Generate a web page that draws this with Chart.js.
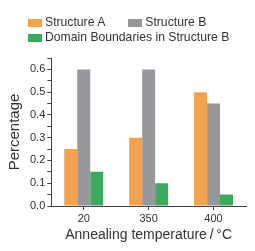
<!DOCTYPE html>
<html><head><meta charset="utf-8">
<script src="https://cdn.jsdelivr.net/npm/chart.js@4"></script>
<style>
html,body{margin:0;padding:0;background:#fff;}
#wrap{position:relative;width:255px;height:251px;}
#legend{position:absolute;left:28px;top:15px;font-family:"Liberation Sans",Arial,sans-serif;font-size:12.2px;color:#333;line-height:15px;white-space:nowrap;width:227px;}
.row{display:flex;align-items:center;height:15px;}
.item{display:flex;align-items:center;margin-right:23px;}
.box{width:14px;height:8px;margin-right:3px;}
</style></head>
<body><div id="wrap"><canvas id="c" width="255" height="251"></canvas><div id="legend"></div></div>
<script>
const categories = ["20", "350", "400"];
const structureA = [0.25, 0.30, 0.50];
const structureB = [0.60, 0.60, 0.45];
const domainBoundaries = [0.15, 0.10, 0.05];
const seriesLabels = ["Structure A", "Structure B", "Domain Boundaries in Structure B"];
const seriesColors = ["#F2A34B", "#98989C", "#3DAA60"];
const legendRows = [[0, 1], [2]];

const values = [structureA, structureB, domainBoundaries];
const datasets = values.map((v, i) => ({
  label: seriesLabels[i], data: v, backgroundColor: seriesColors[i], borderWidth: 0,
  categoryPercentage: 0.6, barPercentage: 1.0
}));

const lg = document.getElementById('legend');
legendRows.forEach(r => {
  const row = document.createElement('div'); row.className = 'row';
  r.forEach(i => {
    const it = document.createElement('div'); it.className = 'item';
    const b = document.createElement('span'); b.className = 'box'; b.style.background = seriesColors[i];
    const t = document.createElement('span'); t.textContent = seriesLabels[i];
    it.appendChild(b); it.appendChild(t); row.appendChild(it);
  });
  lg.appendChild(row);
});

const font = "'Liberation Sans', Arial, sans-serif";
new Chart(document.getElementById('c'), {
  type: 'bar',
  data: { labels: categories, datasets },
  options: {
    responsive: false, animation: false,
    layout: { padding: { top: 58, right: 9, left: 6, bottom: 7 } },
    plugins: { legend: { display: false }, tooltip: { enabled: false } },
    scales: {
      x: {
        grid: { drawOnChartArea: false, drawTicks: true, tickLength: 4, offset: false, color: '#444' },
        border: { display: true, color: '#444', width: 1 },
        ticks: { color: '#333', font: { family: font, size: 11 }, padding: 2 },
        title: { display: true, text: 'Annealing temperature\u2009/\u2009\u00B0C', color: '#333', font: { family: font, size: 14 }, padding: { top: 0, bottom: 0 } }
      },
      y: {
        min: 0, max: 0.65,
        grid: { drawOnChartArea: false, drawTicks: true, tickLength: 4, color: '#444' },
        border: { display: true, color: '#444', width: 1 },
        ticks: {
          stepSize: 0.05, color: '#333', font: { family: font, size: 11 }, padding: 2, autoSkip: false,
          callback: (v) => Math.abs(v * 10 - Math.round(v * 10)) < 1e-6 ? v.toFixed(1) : ''
        },
        title: { display: true, text: 'Percentage', color: '#333', font: { family: font, size: 15 }, padding: { top: 0, bottom: 4 } }
      }
    }
  }
});
</script></body></html>
